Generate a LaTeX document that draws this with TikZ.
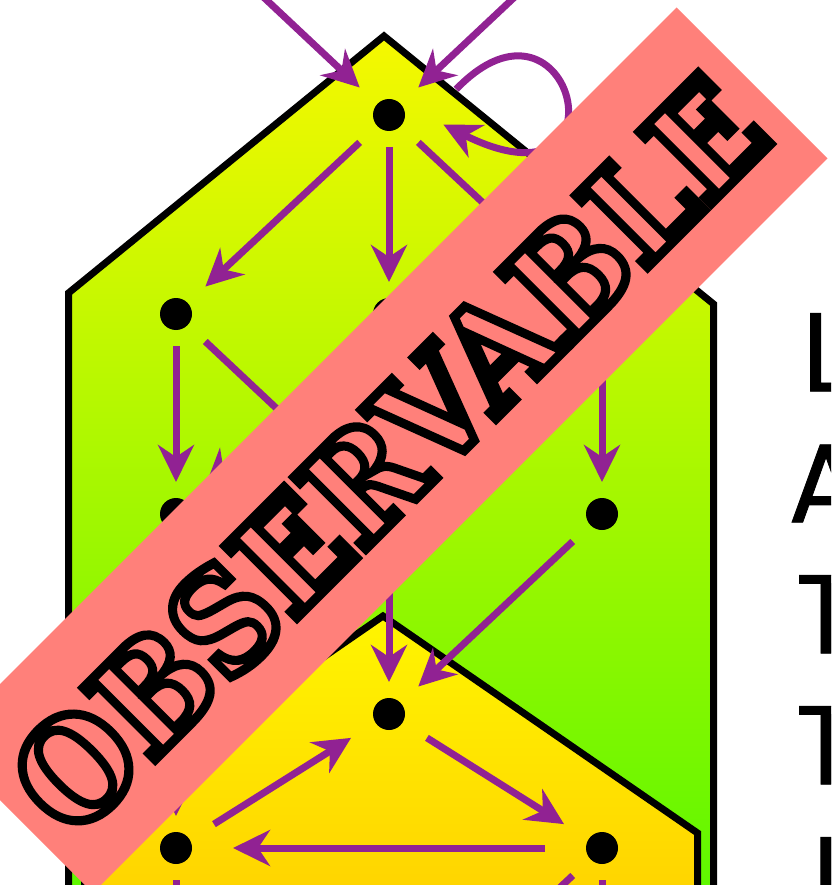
\documentclass[tikz,border=0pt]{standalone}
\usepackage{fontspec}
\usetikzlibrary{arrows.meta, shapes.geometric}

\newfontfamily\bannerfont{DejaVu Serif}
\newfontfamily\sidefont{Poppins}[UprightFeatures={FakeBold=0.7}]

\definecolor{arrowpurple}{RGB}{145,34,147}
\definecolor{bannersalmon}{RGB}{255,128,122}
\definecolor{latticetop}{RGB}{246,248,0}
\definecolor{latticebottom}{RGB}{94,247,0}
\definecolor{cycletop}{RGB}{255,245,0}
\definecolor{cyclebottom}{RGB}{255,212,0}

% hollow letters: salmon fill, black stroke
\newcommand{\outlined}[1]{\special{pdf:literal direct 0 0 0 RG 9.5 w 2 Tr}#1\special{pdf:literal direct 0 Tr}}

\begin{document}
\begin{tikzpicture}[
  x=1pt, y=-1pt,
  hull/.style={draw=black, line width=7pt, line join=miter},
  dot/.style={ellipse, minimum width=114pt, minimum height=64pt, inner sep=0pt, outer sep=0pt,
              path picture={\fill[black] (path picture bounding box.center) circle (16pt);}},
  arr/.style={-{Stealth[length=37pt, width=36pt, inset=12pt]}, line width=7pt, draw=arrowpurple},
  banner/.style={rectangle, fill=bannersalmon, rotate=45, inner sep=0pt,
                 minimum width=1039pt, minimum height=213.5pt},
  bannerlabel/.style={rotate=45, inner sep=0pt, text=bannersalmon,
                      font=\bannerfont\bfseries\fontsize{139}{141}\selectfont},
  sidelabel/.style={align=center, anchor=north, inner sep=0pt,
                    font=\sidefont\fontsize{112}{131}\selectfont}
]
  \useasboundingbox (0,0) rectangle (831,885);
  \clip (0,0) rectangle (831,885);

  % hulls
  \draw[hull, top color=latticetop, bottom color=latticebottom]
    (384,36) -- (713.5,304) -- (713.5,895) -- (68.5,895) -- (68.5,293) -- cycle;
  \draw[hull, top color=cycletop, bottom color=cyclebottom]
    (383,616) -- (697.5,833) -- (697.5,895) -- (84.5,895) -- (84.5,822) -- cycle;

  % lattice points
  \node[dot] (t)  at (389,115) {};
  \node[dot] (ml) at (176,314) {};
  \node[dot] (mc) at (389,314) {};
  \node[dot] (mr) at (602,314) {};
  \node[dot] (ll) at (176,514) {};
  \node[dot] (lc) at (389,514) {};
  \node[dot] (lr) at (602,514) {};
  \node[dot] (ct) at (389,714) {};
  \node[dot] (cl) at (176,848) {};
  \node[dot] (cr) at (602,848) {};

  \coordinate (inl)  at (176,-85);
  \coordinate (inr)  at (602,-85);
  \coordinate (outl) at (176,1048);
  \coordinate (outc) at (389,1048);
  \coordinate (outr) at (602,1048);

  % connectors
  \draw[arr] (inl) -- (t);
  \draw[arr] (inr) -- (t);
  \draw[arr, shorten <=20pt] (t.12) .. controls +(130,-135) and +(190,95) .. (t.-10);

  \draw[arr] (t) -- (ml);
  \draw[arr] (t) -- (mc);
  \draw[arr] (t) -- (mr);
  \draw[arr] (ml) -- (ll);
  \draw[arr] (ml) -- (lc);
  \draw[arr] (mc) -- (ll);
  \draw[arr] (mr) -- (lr);
  \draw[arr] (ll) -- (cl);
  \draw[arr] (lc) -- (ct);
  \draw[arr] (lr) -- (ct);

  \draw[arr] (cl) -- (ct);
  \draw[arr] (ct) -- (cr);
  \draw[arr] (cr) -- (cl);
  \draw[arr] (cl) -- (outl);
  \draw[arr] (cr) -- (outr);
  \draw[arr] (cr) -- (outc);

  % banner
  \node[banner] (ban) at (384.75,450.25) {};
  \node[bannerlabel] (obs) at (388,455) {\scalebox{0.92}[1]{\outlined{OBSERVABLE}}};

  \node[sidelabel] (side) at (826,313) {L\\A\\T\\T\\I};
\end{tikzpicture}
\end{document}
